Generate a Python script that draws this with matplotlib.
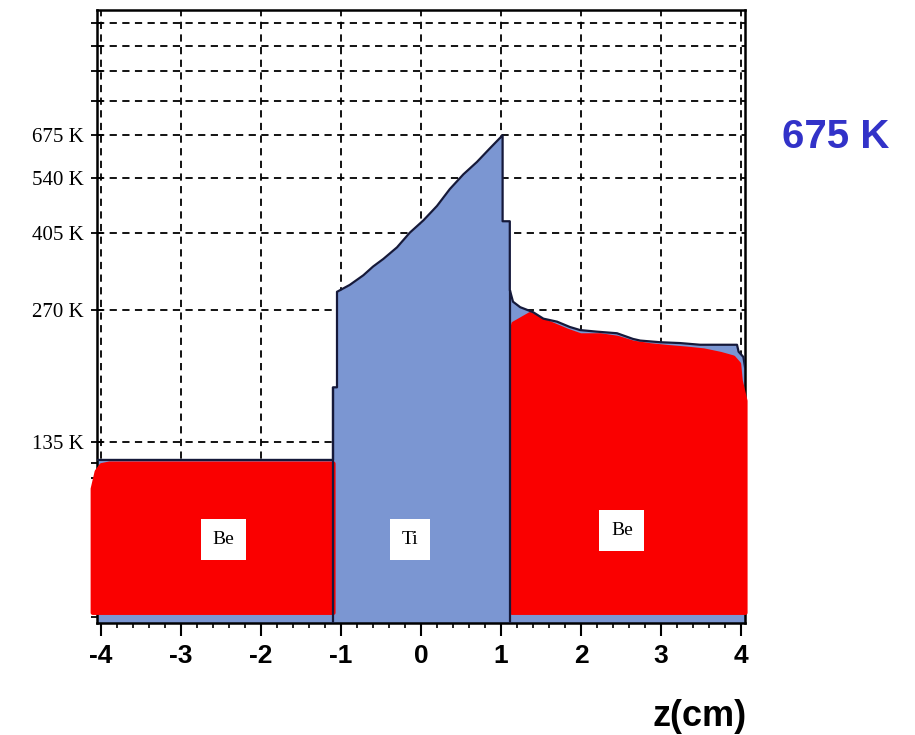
import numpy as np
import matplotlib
matplotlib.use("Agg")
import matplotlib.pyplot as plt

# temperature profile along z (cm): vertices of the outline, jumps given as repeated z
prof_z = [-4.05, -1.10, -1.10, -1.05, -1.05, -0.89, -0.72, -0.60, -0.47, -0.30,
          -0.14, 0.03, 0.20, 0.36, 0.53, 0.70, 0.86, 1.02, 1.02, 1.11,
          1.11, 1.15, 1.24, 1.40, 1.53, 1.70, 1.86, 1.99, 2.20, 2.45,
          2.65, 2.74, 2.99, 3.24, 3.49, 3.95, 3.97, 4.03, 4.05]
prof_T = [123, 123, 180, 180, 297, 308, 324, 339, 353, 375,
          405, 432, 466, 509, 550, 587, 630, 675, 430, 430,
          300, 282, 274, 267, 258, 254, 247, 243, 241, 239,
          232, 230, 228, 227, 225, 225, 217, 211, 200]

# Be regions (red overlay)
be_left_z = [-4.11, -4.06, -4.00, -3.90, -1.10]
be_left_T = [106, 116, 120, 121, 121]
be_right_z = [1.13, 1.15, 1.28, 1.36, 1.45, 1.57, 1.82, 1.99, 2.24, 2.45,
              2.65, 2.86, 3.07, 3.32, 3.53, 3.74, 3.90, 3.97, 3.99, 4.05]
be_right_T = [243, 252, 260, 265, 260, 254, 243, 237, 237, 234,
              228, 225, 223, 221, 219, 215, 211, 204, 187, 168]
be_bottom = 55.3

# region labels
labels = ["Be", "Ti", "Be"]
label_z = [-2.47, -0.14, 2.51]
label_T = [81, 81, 85]

grid_T = [135, 270, 405, 540, 675, 810, 945, 1080, 1215]
grid_labels = ["135 K", "270 K", "405 K", "540 K", "675 K", "", "", "", ""]
extra_T = [54, 112, 121]
x_ticks = [-4, -3, -2, -1, 0, 1, 2, 3, 4]
x_labels = ["-4", "-3", "-2", "-1", "0", "1", "2", "3", "4"]
peak_label = "675 K"

blue = "#7b96d2"
red = "#fa0000"
edge = "#15193a"

fig = plt.figure(figsize=(9.15, 7.35), dpi=100)
ax = fig.add_axes([97 / 915, 1 - 623 / 735, 648 / 915, 613 / 735])
ax.set_yscale("log")
ax.set_xlim(-4.05, 4.05)
ax.set_ylim(52.3, 1302)
ax.set_axisbelow(True)

# profile
ax.fill_between(prof_z, 40, prof_T, color=blue, lw=0, zorder=1)
ax.plot(prof_z, prof_T, color=edge, lw=1.6, zorder=4)
ax.vlines([-1.10, 1.11], 40, [180, 300], color=edge, lw=1.6, zorder=4)

# Be blobs
for z, t in [(be_left_z, be_left_T), (be_right_z, be_right_T)]:
    p = ax.fill_between(z, be_bottom, t, facecolor=red, edgecolor=red,
                        lw=3, joinstyle="round", zorder=3)
    p.set_clip_on(False)

for s, z, t in zip(labels, label_z, label_T):
    ax.text(z, t, s, ha="center", va="center", family="Liberation Serif",
            fontsize=14, zorder=6,
            bbox=dict(boxstyle="square,pad=0.6", fc="white", ec="none"))

# axes and grid
ax.set_xticks(x_ticks)
ax.set_xticklabels(x_labels, fontsize=19, fontweight="bold",
                   family="Liberation Sans")
ax.set_xticks(np.arange(-4, 4.01, 0.2), minor=True)
ax.set_yticks(grid_T)
ax.set_yticklabels(grid_labels, fontsize=15, family="Liberation Serif")
ax.set_yticks(extra_T, minor=True)
ax.yaxis.set_minor_formatter(matplotlib.ticker.NullFormatter())

ax.tick_params(axis="x", which="major", direction="out", length=9, width=1.5, pad=6)
ax.tick_params(axis="x", which="minor", direction="inout", length=7, width=1.2)
ax.tick_params(axis="y", which="both", direction="inout", length=9, width=1.3, pad=5)
ax.grid(which="major", color="black", ls=(0, (4, 3)), lw=1.3)
for s in ax.spines.values():
    s.set_linewidth(1.8)

fig.text(836 / 915, 1 - 137 / 735, peak_label, ha="center", va="center",
         fontsize=29, fontweight="bold", color="#3232c8", family="Liberation Sans")
fig.text(700 / 915, 1 - 716 / 735, "z(cm)", ha="center", va="center",
         fontsize=26, fontweight="bold", family="Liberation Sans")

fig.savefig("out.png", dpi=100)
